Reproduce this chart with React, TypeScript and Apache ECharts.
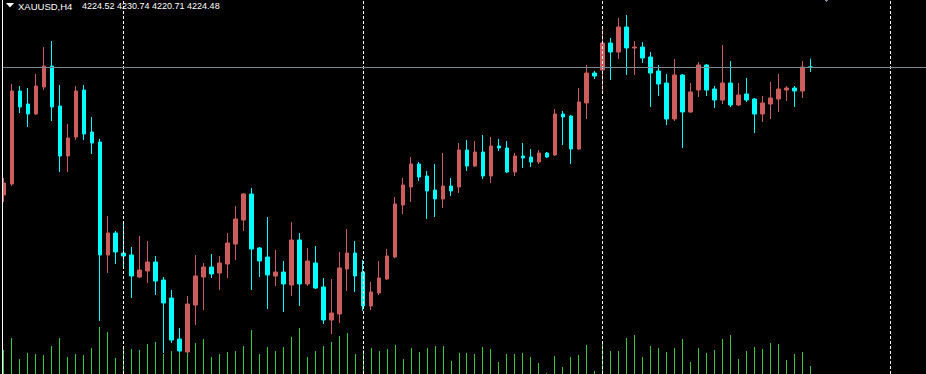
import { useEffect, useRef } from 'react';
import * as echarts from 'echarts';

const symbolLabel = 'XAUUSD,H4';
const quoteLabel = '4224.52 4230.74 4220.71 4224.48';
const slotCount = 116;
const bidPrice = 4224.48;
const separatorSlots = ['15', '45', '75', '111'];

const opens = [
  4128.48, 4136.73, 4206.48, 4196.73, 4189.23, 4209.48, 4225.23, 4195.23, 4157.73, 4171.98,
  4207.23, 4175.73, 4168.23, 4083.48, 4099.98, 4084.98, 4083.48, 4066.98, 4071.48, 4078.23,
  4064.73, 4051.23, 4020.48, 4010.73, 4045.98, 4066.98, 4074.48, 4069.98, 4076.73, 4091.73,
  4109.73, 4129.23, 4088.73, 4081.98, 4067.73, 4070.73, 4060.98, 4094.73, 4061.73, 4077.48,
  4059.48, 4034.73, 4039.23, 4072.98, 4084.98, 4070.73, 4045.23, 4054.98, 4065.48, 4081.98,
  4120.98, 4134.48, 4151.73, 4142.73, 4132.23, 4125.48, 4135.23, 4134.48, 4162.23, 4150.23,
  4160.73, 4142.73, 4165.23, 4163.73, 4145.73, 4157.73, 4156.98, 4153.23, 4159.98, 4158.48,
  4189.23, 4187.73, 4162.98, 4197.48, 4219.98, 4222.23, 4242.48, 4235.73, 4254.48, 4238.73,
  4239.48, 4231.98, 4221.48, 4212.48, 4185.48, 4218.48, 4190.73, 4207.23, 4225.98, 4207.98,
  4199.73, 4212.48, 4195.98, 4204.23, 4200.48, 4189.23, 4196.73, 4200.48, 4207.23, 4208.73,
  4206.48, 4224.52,
];
const closes = [
  4137.48, 4206.48, 4194.48, 4189.23, 4210.23, 4225.23, 4194.48, 4157.73, 4171.23, 4206.48,
  4174.23, 4167.48, 4083.48, 4099.98, 4085.73, 4082.73, 4067.73, 4072.23, 4078.23, 4063.98,
  4047.48, 4019.73, 4011.48, 4046.73, 4067.73, 4074.48, 4069.23, 4077.48, 4092.48, 4110.48,
  4129.23, 4087.98, 4078.98, 4068.48, 4070.73, 4061.73, 4094.73, 4061.73, 4078.98, 4058.73,
  4034.73, 4039.98, 4073.73, 4084.98, 4067.73, 4045.23, 4055.73, 4066.23, 4082.73, 4121.73,
  4135.98, 4151.73, 4141.98, 4131.48, 4125.48, 4135.23, 4131.48, 4162.23, 4150.23, 4160.73,
  4142.73, 4165.23, 4163.73, 4145.73, 4157.73, 4156.23, 4153.23, 4159.98, 4156.98, 4189.23,
  4186.98, 4162.98, 4198.23, 4219.98, 4217.73, 4242.48, 4235.73, 4254.48, 4238.73, 4239.48,
  4231.23, 4219.98, 4211.73, 4185.48, 4218.48, 4190.73, 4205.73, 4225.98, 4207.23, 4199.73,
  4212.48, 4195.98, 4203.48, 4199.73, 4189.23, 4197.48, 4201.23, 4207.98, 4208.73, 4206.48,
  4224.48, 4224.48,
];
const lows = [
  4123.23, 4135.23, 4189.98, 4179.48, 4188.48, 4207.23, 4183.98, 4145.73, 4145.73, 4169.73,
  4169.73, 4159.23, 4033.98, 4069.98, 4076.73, 4072.98, 4051.23, 4066.23, 4062.48, 4053.48,
  4009.98, 4017.48, 4010.73, 4009.98, 4030.98, 4042.23, 4066.23, 4057.23, 4066.23, 4079.73,
  4101.48, 4057.23, 4066.98, 4042.98, 4060.23, 4040.73, 4052.73, 4045.23, 4060.23, 4057.98,
  4031.73, 4024.23, 4032.48, 4056.48, 4055.73, 4041.48, 4042.23, 4053.48, 4064.73, 4081.23,
  4114.23, 4123.23, 4138.98, 4110.48, 4111.98, 4118.73, 4127.73, 4129.98, 4146.48, 4149.48,
  4140.48, 4137.48, 4161.48, 4144.98, 4142.73, 4148.73, 4149.48, 4151.73, 4156.23, 4157.73,
  4165.98, 4151.73, 4162.23, 4185.48, 4215.48, 4204.98, 4214.73, 4230.48, 4218.48, 4218.48,
  4227.48, 4194.48, 4202.73, 4180.98, 4183.98, 4163.73, 4190.23, 4201.98, 4202.73, 4193.73,
  4196.73, 4194.48, 4195.23, 4198.23, 4174.98, 4183.23, 4185.48, 4190.73, 4198.98, 4194.48,
  4201.23, 4220.71,
];
const highs = [
  4141.23, 4211.73, 4210.23, 4208.73, 4219.23, 4239.48, 4243.98, 4210.98, 4181.73, 4210.23,
  4210.98, 4186.98, 4170.48, 4112.73, 4101.48, 4108.23, 4089.48, 4097.73, 4093.98, 4082.73,
  4066.98, 4057.23, 4028.73, 4052.73, 4083.48, 4077.48, 4084.23, 4082.73, 4099.98, 4120.23,
  4129.98, 4133.73, 4089.48, 4111.98, 4087.23, 4078.98, 4108.23, 4099.98, 4088.73, 4090.23,
  4066.23, 4065.48, 4085.73, 4102.98, 4093.98, 4079.73, 4063.23, 4078.98, 4087.98, 4126.98,
  4141.23, 4156.98, 4153.23, 4146.48, 4151.73, 4159.98, 4141.23, 4167.48, 4169.73, 4168.98,
  4173.48, 4171.98, 4170.48, 4168.98, 4159.98, 4167.48, 4162.98, 4162.23, 4160.73, 4192.98,
  4191.48, 4188.48, 4208.73, 4225.98, 4221.48, 4255.23, 4246.23, 4261.23, 4263.48, 4243.98,
  4243.23, 4235.73, 4225.98, 4219.23, 4230.48, 4219.23, 4212.48, 4228.23, 4226.73, 4210.23,
  4240.98, 4228.98, 4212.48, 4216.23, 4201.23, 4202.73, 4213.23, 4219.23, 4210.23, 4210.23,
  4228.98, 4230.74,
];
const volumes = [
  24000, 36000, 15000, 21000, 20000, 19000, 28000, 36000, 17000, 20000,
  19000, 26000, 47000, 42000, 16000, 28000, 25000, 24000, 30000, 32000,
  20000, 23000, 26000, 26000, 31000, 35000, 17000, 20000, 22000, 23000,
  28000, 44000, 20000, 27000, 23000, 27000, 37000, 46000, 17000, 23000,
  28000, 32000, 38000, 41000, 20000, 24000, 26000, 23000, 25000, 29000,
  15000, 26000, 22000, 26000, 28000, 28000, 13000, 21000, 21000, 20000,
  27000, 25000, 12000, 20000, 20000, 21000, 17000, 11000, 1000, 18000,
  7000, 17000, 19000, 29000, 3000, 31000, 23000, 23000, 36000, 39000,
  17000, 28000, 26000, 22000, 26000, 35000, 12000, 26000, 21000, 24000,
  35000, 39000, 15000, 23000, 27000, 25000, 31000, 30000, 14000, 20000,
  22000, 8000,
];

export default function App() {
  const ref = useRef<HTMLDivElement>(null);
  useEffect(() => {
    document.body.style.margin = '0';
    document.body.style.background = '#000';
    const chart = echarts.init(ref.current!, null, { renderer: 'svg' });
    const categories = Array.from({ length: slotCount }, (_, i) => String(i));
    const candles = opens.map((o, i) => [o, closes[i], lows[i], highs[i]]);
    const volumeData = volumes.map((v, i) => [i, v]);
    chart.setOption({
      animation: false,
      backgroundColor: '#000000',
      grid: [
        { left: -0.5, top: 0, width: 928, height: 374 },
        { left: -0.5, bottom: 0, width: 928, height: 100 },
      ],
      xAxis: [
        { type: 'category', gridIndex: 0, data: categories, boundaryGap: true, show: false },
        { type: 'category', gridIndex: 1, data: categories, boundaryGap: true, show: false },
      ],
      yAxis: [
        { type: 'value', gridIndex: 0, min: 3994.23, max: 4274.73, show: false, splitLine: { show: false }, scale: true },
        { type: 'value', gridIndex: 1, min: 0, max: 100000, show: false, splitLine: { show: false } },
      ],
      series: [
        {
          type: 'line',
          xAxisIndex: 0,
          yAxisIndex: 0,
          data: [],
          z: 0,
          silent: true,
          markLine: {
            silent: true,
            symbol: ['none', 'none'],
            label: { show: false },
            animation: false,
            data: [
              ...separatorSlots.map((s) => ({ xAxis: s, lineStyle: { color: '#ffffff', type: [3, 2], width: 1 } })),
              { yAxis: bidPrice, lineStyle: { color: '#778899', type: 'solid', width: 1 } },
            ],
          },
        },
        {
          type: 'custom',
          xAxisIndex: 1,
          yAxisIndex: 1,
          data: volumeData,
          z: 1,
          silent: true,
          renderItem: (_params: any, api: any) => {
            const top = api.coord([api.value(0), api.value(1)]);
            const base = api.coord([api.value(0), 0]);
            return {
              type: 'rect',
              shape: { x: Math.round(top[0] - 0.5), y: Math.round(top[1]), width: 1, height: Math.round(base[1]) - Math.round(top[1]) },
              style: { fill: '#32cd32' },
            };
          },
        },
        {
          type: 'candlestick',
          xAxisIndex: 0,
          yAxisIndex: 0,
          data: candles,
          barWidth: 4,
          z: 2,
          silent: true,
          itemStyle: {
            color: '#cd5c5c',
            color0: '#00ffff',
            borderColor: '#cd5c5c',
            borderColor0: '#00ffff',
            borderWidth: 1,
          },
        },
      ],
      graphic: [
        { type: 'rect', z: 100, shape: { x: 0, y: 0, width: 2, height: 374 }, style: { fill: '#000000' } },
        { type: 'rect', z: 100, shape: { x: 2, y: 0, width: 1, height: 374 }, style: { fill: '#ffffff' } },
        { type: 'rect', z: 100, shape: { x: 825, y: 0, width: 3, height: 1 }, style: { fill: '#778899' } },
        { type: 'rect', z: 100, shape: { x: 826, y: 1, width: 1, height: 1 }, style: { fill: '#778899' } },
        { type: 'polygon', z: 100, shape: { points: [[6, 3], [14, 3], [10, 7.5]] }, style: { fill: '#ffffff' } },
        {
          type: 'text', z: 100, x: 18, y: 1,
          style: { text: symbolLabel, fill: '#ffffff', font: '9.5px "Liberation Sans", Arial, sans-serif', verticalAlign: 'top' },
        },
        {
          type: 'text', z: 100, x: 82, y: 1,
          style: { text: quoteLabel, fill: '#ffffff', font: '9px "Liberation Sans", Arial, sans-serif', verticalAlign: 'top' },
        },
      ],
    });
    return () => chart.dispose();
  }, []);
  return <div ref={ref} style={{ position: 'fixed', left: 0, top: 0, width: 926, height: 374 }} />;
}
